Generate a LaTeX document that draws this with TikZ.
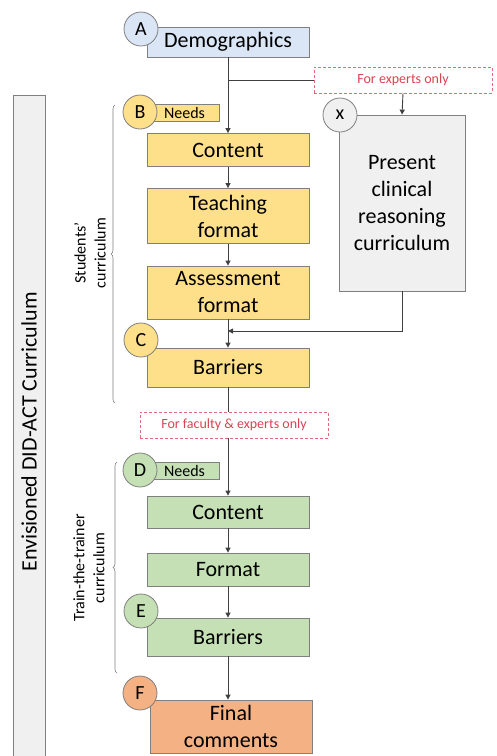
\documentclass[tikz,border=0pt]{standalone}
\usepackage{fontspec}
\setmainfont{Carlito}
\usepackage{tikz}
\usetikzlibrary{arrows.meta,calc,decorations.pathreplacing,positioning}

\definecolor{ygold}{HTML}{FFE08A}
\definecolor{ggreen}{HTML}{C5E0B4}
\definecolor{bblue}{HTML}{DAE6F5}
\definecolor{oorange}{HTML}{F4B183}
\definecolor{lgray}{HTML}{F0F0F0}
\definecolor{bordergray}{HTML}{7F7F7F}
\definecolor{linegray}{HTML}{404040}
\definecolor{redtext}{HTML}{D94452}
\definecolor{reddash}{HTML}{E06A78}

\begin{document}
\begin{tikzpicture}[x=1pt,y=-1pt,
  box/.style={draw=bordergray,line width=0.8pt,minimum width=162pt,inner sep=0pt,align=center,font=\fontsize{22}{27}\selectfont},
  ybox/.style={box,fill=ygold},
  gbox/.style={box,fill=ggreen},
  circ/.style={circle,draw=bordergray,line width=0.8pt,minimum size=34pt,inner sep=0pt,font=\fontsize{20}{24}\selectfont},
  tab/.style={draw=bordergray,line width=0.8pt,minimum width=69pt,minimum height=17pt,inner sep=0pt,font=\fontsize{16}{18}\selectfont},
  redbox/.style={draw=reddash,dash pattern=on 3pt off 2pt,line width=0.8pt,fill=white,text=redtext,minimum height=26pt,inner sep=0pt,font=\fontsize{14}{16}\selectfont},
  flow/.style={draw=linegray,line width=0.9pt},
  arr/.style={flow,-{Triangle[length=5pt,width=5pt]}},
  bracket/.style={draw=bordergray,line width=0.6pt,decorate,decoration={brace,amplitude=4pt}},
  sidetext/.style={rotate=90,align=center,font=\fontsize{16}{20}\selectfont}]

 \useasboundingbox (0,0) rectangle (496,756);

 % left bar
 \draw[draw=bordergray,line width=0.8pt,fill=lgray] (13,95) rectangle (45,758);
 \node[rotate=90,inner sep=0pt,font=\fontsize{22}{26}\selectfont] (bar) at (29,432) {Envisioned DID-ACT Curriculum};

 % boxes
 \node[box,fill=bblue,minimum height=30pt] (demo) at (228,42) {Demographics};
 \node[ybox,minimum height=33pt] (cont1) at (228,150) {Content};
 \node[ybox,minimum height=55pt] (teach) at (228,216) {Teaching\\format};
 \node[ybox,minimum height=53pt] (assess) at (228,292.5) {Assessment\\format};
 \node[ybox,minimum height=39pt] (barr1) at (228,367.5) {Barriers};
 \node[box,fill=lgray,minimum width=126pt,minimum height=176pt] (xbox) at (402,203) {Present\\clinical\\reasoning\\curriculum};

 \node[gbox,minimum height=32pt] (cont2) at (228,512) {Content};
 \node[gbox,minimum height=33pt] (form2) at (228,569.5) {Format};
 \node[gbox,minimum height=38pt] (barr2) at (228,637) {Barriers};
 \node[box,fill=oorange,minimum height=53pt] (final) at (231,726.5) {Final\\comments};

 % dashed notes
 \node[redbox,minimum width=178pt] (red1) at (403,80) {For experts only};
 \node[redbox,minimum width=188pt] (red2) at (234,425) {For faculty \& experts only};

 % needs tabs
 \node[tab,fill=ygold] (tabB) at (184.5,112.5) {Needs};
 \node[tab,fill=ggreen] (tabD) at (184.5,471) {Needs};

 % letters
 \node[circ,fill=bblue] (cA) at (141,29) {A};
 \node[circ,fill=ygold] (cB) at (140,112) {B};
 \node[circ,fill=ygold] (cC) at (141,340) {C};
 \node[circ,fill=lgray] (cX) at (340,115) {x};
 \node[circ,fill=ggreen] (cD) at (140,470) {D};
 \node[circ,fill=ggreen] (cE) at (141,611) {E};
 \node[circ,fill=oorange] (cF) at (140,693) {F};

 % connectors
 \coordinate (split) at (228,80);
 \coordinate (merge) at (228,331);
 \draw[arr] (demo.south) -- (cont1.north);
 \draw[flow] (split) -- (red1.west);
 \draw[arr] (red1.south) -- (xbox.north);
 \draw[arr] (cont1) -- (teach);
 \draw[arr] (teach) -- (assess);
 \draw[arr] (assess) -- (barr1);
 \draw[arr] (xbox.south) |- (merge);
 \draw[flow] (barr1.south) -- (barr1.south |- red2.north);
 \draw[arr] (barr1.south |- red2.south) -- (cont2.north);
 \draw[arr] (cont2) -- (form2);
 \draw[arr] (form2) -- (barr2);
 \draw[arr] (barr2.south) -- (barr2.south |- final.north);

 % brackets
 \draw[bracket] (115,403) -- (115,105);
 \draw[bracket] (117,673) -- (117,462);
 \node[sidetext] (stud) at (90,253) {Students’\\curriculum};
 \node[sidetext] (train) at (89,568) {Train-the-trainer\\curriculum};
\end{tikzpicture}
\end{document}
